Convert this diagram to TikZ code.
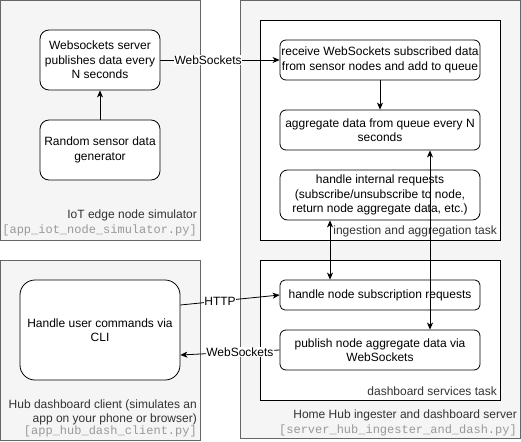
\documentclass[tikz,border=0pt]{standalone}
\usepackage{fontspec}
\setmainfont{Liberation Sans}
\newfontfamily\monofnt{Liberation Mono}
\usetikzlibrary{arrows.meta,calc}
\definecolor{contfill}{HTML}{F5F5F5}
\definecolor{contdraw}{HTML}{666666}
\definecolor{labtext}{HTML}{333333}
\definecolor{monotext}{HTML}{999999}
\begin{document}
\begin{tikzpicture}[x=1pt,y=-1pt,
  every node/.style={font=\fontsize{12}{14.4}\selectfont},
  container/.style={draw=contdraw,fill=contfill,line width=0.8pt},
  taskbox/.style={draw=black,fill=white,line width=0.8pt},
  proc/.style={draw=black,fill=white,line width=0.8pt,rounded corners=#1,inner sep=0pt,align=center},
  proc/.default=6pt,
  lab/.style={text=labtext,inner sep=0pt,anchor=east},
  monolab/.style={text=monotext,inner sep=0pt,anchor=east,font=\monofnt\fontsize{12}{14.4}\selectfont},
  conn/.style={draw=black,line width=0.8pt},
  tip/.style={-{Stealth[length=7pt,width=6pt,inset=2pt]}},
  dtip/.style={{Stealth[length=7pt,width=6pt,inset=2pt]}-{Stealth[length=7pt,width=6pt,inset=2pt]}},
  clab/.style={fill=white,inner sep=0.5pt,text=black}
]
\useasboundingbox (0,0) rectangle (521,441);
% containers
\path[container] (0.5,0.5) rectangle (200,240);
\path[container] (240,0.5) rectangle (520,438);
\path[container] (0.5,260) rectangle (200,440);
\path[taskbox] (260,20) rectangle (500,240);
\path[taskbox] (260,260) rectangle (500,400);

% left top
\node[proc=9pt,minimum width=120pt,minimum height=60pt] (ws) at (100,60) {Websockets server\\publishes data every\\N seconds};
\node[proc=9pt,minimum width=120pt,minimum height=60pt] (rnd) at (100,150) {Random sensor data\\generator};
\node[lab] (l1) at (197,215) {IoT edge node simulator};
\node[monolab] (l2) at (197,230) {[app\_iot\_node\_simulator.py]};

% ingestion task
\node[proc=6pt,minimum width=200pt,minimum height=40pt] (recv) at (380,60) {receive WebSockets subscribed data\\from sensor nodes and add to queue};
\node[proc=6pt,minimum width=200pt,minimum height=40pt] (agg) at (380,130) {aggregate data from queue every N\\seconds};
\node[proc=7.5pt,minimum width=200pt,minimum height=50pt] (int) at (380,195) {handle internal requests\\(subscribe/unsubscribe to node,\\return node aggregate data, etc.)};
\node[lab] (l3) at (497,231) {ingestion and aggregation task};

% dashboard task
\node[proc=5pt,minimum width=200pt,minimum height=30pt] (sub) at (380,295) {handle node subscription requests};
\node[proc=6pt,minimum width=200pt,minimum height=40pt] (pub) at (380,350) {publish node aggregate data via\\WebSockets};
\node[lab] (l4) at (497,391) {dashboard services task};
\node[lab] (l5) at (517,415) {Home Hub ingester and dashboard server};
\node[monolab] (l6) at (517,430) {[server\_hub\_ingester\_and\_dash.py]};

% client
\node[proc=15pt,minimum width=160pt,minimum height=100pt] (cli) at (100,330) {Handle user commands via\\CLI};
\node[lab] (l7) at (197,405) {Hub dashboard client (simulates an};
\node[lab] (l8) at (197,419) {app on your phone or browser)};
\node[monolab] (l9) at (197,431) {[app\_hub\_dash\_client.py]};

% connectors
\draw[conn,tip] (rnd.north) -- (ws.south);
\draw[conn,tip] (ws.east) -- node[clab,pos=0.4] {WebSockets} (recv.west);
\draw[conn,tip] (recv.south) -- (agg.north);
\draw[conn,dtip] ([xshift=-50pt]int.south) -- ([xshift=-50pt]sub.north);
\draw[conn,dtip] ([xshift=50pt]agg.south) -- ([xshift=50pt]pub.north);
\draw[conn,tip] ([yshift=25pt]cli.east) -- node[clab,pos=0.4] {HTTP} (sub.west);
\draw[conn,tip] (pub.west) -- node[clab,pos=0.4] {WebSockets} ([yshift=-25pt]cli.east);
\end{tikzpicture}
\end{document}
